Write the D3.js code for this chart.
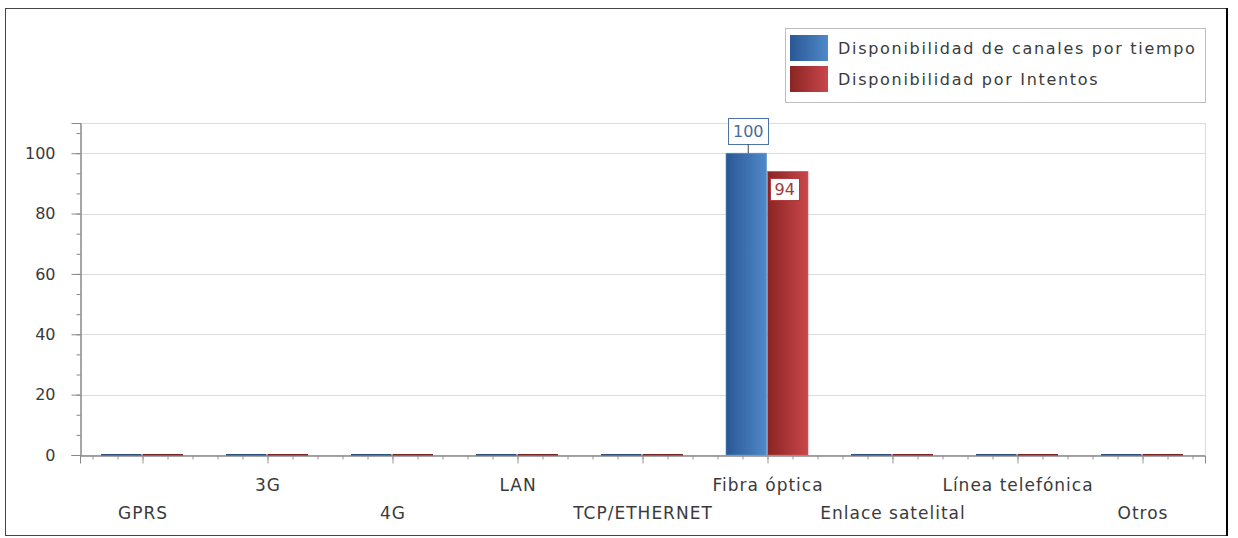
<!DOCTYPE html>
<html>
<head>
<meta charset="utf-8">
<script src="https://cdn.jsdelivr.net/npm/d3@7"></script>
<style>
  body { margin: 0; background: #fff; }
  svg text { font-family: "DejaVu Sans", Verdana, sans-serif; }
</style>
</head>
<body>
<div id="chart"></div>
<script>
'use strict';

// chart data
var categories = ['GPRS', '3G', '4G', 'LAN', 'TCP/ETHERNET', 'Fibra óptica',
                  'Enlace satelital', 'Línea telefónica', 'Otros'];
var seriesNames = ['Disponibilidad de canales por tiempo', 'Disponibilidad por Intentos'];
var porTiempo   = [0, 0, 0, 0, 0, 100, 0, 0, 0];
var porIntentos = [0, 0, 0, 0, 0, 94, 0, 0, 0];
var yTicks      = [0, 20, 40, 60, 80, 100];

(function () {
var width     = 1238,
    height    = 538,
    plotLeft  = 80,
    plotRight = 1205,
    plotTop   = 123,
    plotBot   = 455;

var svg = d3.select('#chart')
    .append('svg')
    .attr('width', width)
    .attr('height', height);

//gradients for the bars
var defs = svg.append('defs');
var grads = [
    {id: 'gBlue', from: '#2a5795', to: '#4f89c9'},
    {id: 'gRed',  from: '#8a2424', to: '#c9474a'}
];
grads.forEach(function (g) {
    var lg = defs.append('linearGradient').attr('id', g.id)
        .attr('x1', '0%').attr('x2', '100%').attr('y1', '0%').attr('y2', '0%');
    lg.append('stop').attr('offset', '0%').attr('stop-color', g.from);
    lg.append('stop').attr('offset', '100%').attr('stop-color', g.to);
});
var fills  = ['url(#gBlue)', 'url(#gRed)'];
var darks  = ['#2c4f80', '#7d2626'];
var labelColors = ['#4a6b9b', '#a03a3a'];
var boxColors   = ['#4d74a8', '#b03c3c'];

//outer frame
svg.append('rect')
    .attr('x', 5.5).attr('y', 8.5)
    .attr('width', 1221).attr('height', 527)
    .attr('fill', 'none').attr('stroke', '#444').attr('stroke-width', 1);
svg.append('line')
    .attr('x1', 1227).attr('x2', 1227).attr('y1', 8).attr('y2', 536)
    .attr('stroke', '#000').attr('stroke-width', 2);

var x = d3.scaleLinear().domain([-0.5, categories.length - 0.5]).range([plotLeft, plotRight]);
var y = d3.scaleLinear().domain([0, 110]).range([plotBot, plotTop]);

//grid
svg.append('g').selectAll('line')
    .data(yTicks.concat([110]))
    .enter().append('line')
    .attr('x1', plotLeft).attr('x2', plotRight)
    .attr('y1', function (d) { return Math.round(y(d)) + 0.5; })
    .attr('y2', function (d) { return Math.round(y(d)) + 0.5; })
    .attr('stroke', '#dcdcdc');
svg.append('line')
    .attr('x1', plotRight + 0.5).attr('x2', plotRight + 0.5)
    .attr('y1', plotTop).attr('y2', plotBot)
    .attr('stroke', '#dcdcdc');

//y axis
var yMinor = d3.range(0, 110, 20 / 3);
var yAxisMinor = d3.axisLeft(y).tickValues(yMinor).tickSize(4).tickFormat('');
var yAxis = d3.axisLeft(y).tickValues(yTicks).tickSize(9).tickPadding(16);
var gyMinor = svg.append('g').attr('transform', 'translate(' + (plotLeft + 0.5) + ',0)').call(yAxisMinor);
var gy = svg.append('g').attr('transform', 'translate(' + (plotLeft + 0.5) + ',0)').call(yAxis);
[gy, gyMinor].forEach(function (g) {
    g.select('.domain').attr('stroke', '#888');
    g.selectAll('.tick line').attr('stroke', '#888');
});
gy.selectAll('.tick text')
    .attr('fill', '#3a3a3a')
    .style('font-size', '16px');

//x axis
var xMinor = d3.range(-0.4, categories.length - 0.5, 0.2);
var xAxisMinor = d3.axisBottom(x).tickValues(xMinor).tickSize(4).tickFormat('');
var xAxis = d3.axisBottom(x).tickValues(d3.range(categories.length)).tickSize(8)
    .tickFormat(function (d) { return categories[d]; });
var gxMinor = svg.append('g').attr('transform', 'translate(0,' + (plotBot + 0.5) + ')').call(xAxisMinor);
var gx = svg.append('g').attr('transform', 'translate(0,' + (plotBot + 0.5) + ')').call(xAxis);
[gx, gxMinor].forEach(function (g) {
    g.select('.domain').attr('stroke', '#888');
    g.selectAll('.tick line').attr('stroke', '#999');
});
gx.selectAll('.tick text')
    .attr('fill', '#3a3a3a')
    .style('font-size', '17px')
    .style('letter-spacing', '1px')
    .attr('y', function (d, i) { return i % 2 === 0 ? 51 : 23; });

//bars
var series = [porTiempo, porIntentos];
var inner = d3.scaleBand().domain([0, 1]).range([-0.332, 0.324]).paddingInner(0.025);

series.forEach(function (vals, s) {
    var g = svg.append('g');
    g.selectAll('rect')
        .data(vals)
        .enter().append('rect')
        .attr('x', function (d, i) { return x(i + inner(s)); })
        .attr('width', function () { return x(inner.bandwidth()) - x(0); })
        .attr('y', function (d) { return d > 0 ? y(d) : plotBot - 1; })
        .attr('height', function (d) { return d > 0 ? plotBot - y(d) : 1.5; })
        .attr('fill', function (d) { return d > 0 ? fills[s] : darks[s]; })
        .attr('stroke', function (d) { return d > 0 ? (s === 0 ? '#5b8fd0' : '#d05a5a') : 'none'; })
        .attr('stroke-width', 0.6);
});

//value labels
series.forEach(function (vals, s) {
    vals.forEach(function (d, i) {
        if (d <= 0) return;
        var cx = x(i + inner(s) + inner.bandwidth() / 2);
        var g = svg.append('g');
        var t = g.append('text')
            .attr('text-anchor', 'middle')
            .attr('fill', labelColors[s])
            .style('font-size', '16px')
            .text(d);
        var bw = t.node().getComputedTextLength() + 9, bh, by;
        if (s === 0) {
            bh = 26;
            cx = cx + 2;
            by = y(d) - 9 - bh;
            g.append('line')
                .attr('x1', cx).attr('x2', cx)
                .attr('y1', by + bh).attr('y2', y(d))
                .attr('stroke', '#444');
        } else {
            bh = 22;
            cx = cx - 3;
            by = y(d) + 7;
        }
        g.insert('rect', 'text')
            .attr('x', Math.round(cx - bw / 2) + 0.5).attr('y', Math.round(by) + 0.5)
            .attr('width', Math.round(bw)).attr('height', bh)
            .attr('fill', '#fff')
            .attr('stroke', boxColors[s]);
        t.attr('x', cx).attr('y', by + bh / 2 + 6);
    });
});

//legend
var legend = svg.append('g').attr('transform', 'translate(785,28)');
legend.append('rect')
    .attr('x', 0.5).attr('y', 0.5)
    .attr('width', 420).attr('height', 74)
    .attr('fill', '#fff').attr('stroke', '#bdbdbd');
var items = legend.selectAll('.item')
    .data(seriesNames)
    .enter().append('g')
    .attr('transform', function (d, i) { return 'translate(5,' + (7 + i * 31) + ')'; });
items.append('rect')
    .attr('width', 38).attr('height', 26)
    .attr('fill', function (d, i) { return fills[i]; });
items.append('text')
    .attr('x', 48).attr('y', 19)
    .attr('fill', '#3a3a3a')
    .style('font-size', '16px')
    .style('letter-spacing', '1.7px')
    .text(function (d) { return d; });
})();
</script>
</body>
</html>
